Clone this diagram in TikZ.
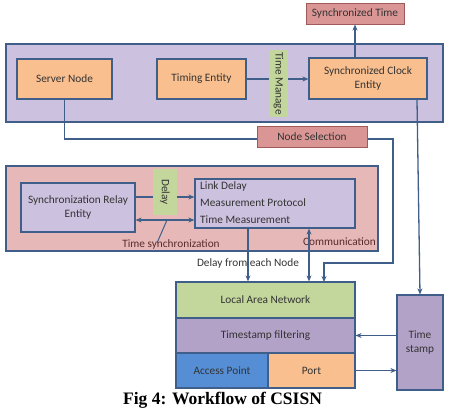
\documentclass[tikz,border=0pt]{standalone}
\usepackage{fontspec}
\setmainfont{Carlito}
\newfontfamily\capfont{Liberation Serif}
\usetikzlibrary{arrows.meta}
\definecolor{lav}{HTML}{CCC1DE}
\definecolor{orng}{HTML}{F9BF8F}
\definecolor{rosy}{HTML}{D99694}
\definecolor{pinkbg}{HTML}{E6B9B8}
\definecolor{grn}{HTML}{C3D69B}
\definecolor{purp}{HTML}{B3A2C7}
\definecolor{blu}{HTML}{558ED5}
\definecolor{edge}{HTML}{3F5F8A}
\definecolor{redge}{HTML}{A05A5A}
\definecolor{txt}{HTML}{333333}
\definecolor{brn}{HTML}{5B2B2B}
\tikzset{
  box/.style={draw=edge, line width=1.2pt, inner sep=0pt, text=txt, font=\fontsize{11.3}{13.5}\selectfont, align=center},
  rbox/.style={draw=redge, line width=1pt, fill=rosy, inner sep=0pt, text=txt, font=\fontsize{11.3}{13.5}\selectfont},
  tag/.style={fill=grn, inner sep=0pt, text=txt, font=\fontsize{11.3}{13.5}\selectfont},
  plain/.style={inner sep=0pt, text=txt, font=\fontsize{11.3}{13.5}\selectfont},
  conn/.style={draw=edge, line width=1.3pt},
  arr/.style={conn, -{Stealth[length=6pt,width=5pt]}},
  darr/.style={conn, {Stealth[length=6pt,width=5pt]}-{Stealth[length=6pt,width=5pt]}}
}
\begin{document}
\begin{tikzpicture}[x=1pt,y=-1pt]
\useasboundingbox (0,0) rectangle (451,410);
% top region
\node[box, fill=lav, minimum width=437pt, minimum height=78pt] (topbg) at (224.5,83) {};
\node[rbox, minimum width=98pt, minimum height=21pt] (synctime) at (355,13.5) {Synchronized Time};
\node[box, fill=orng, minimum width=95pt, minimum height=40pt] (server) at (64.5,79) {Server Node};
\node[box, fill=orng, minimum width=89pt, minimum height=40pt] (timing) at (201.5,79) {Timing Entity};
\node[box, fill=orng, minimum width=118pt, minimum height=41pt] (syncclock) at (368,78.5) {Synchronized Clock\\Entity};
\draw[arr] (timing.east) -- (syncclock.west |- timing.east);
\node[tag, minimum width=19pt, minimum height=67pt] (tmbg) at (278.5,83.5) {};
\node[plain, rotate=-90] (tm) at (278.5,83.5) {Time Manage};
\draw[arr] (synctime.south |- syncclock.north) -- (synctime.south);
% node selection path
\coordinate (c1) at (393,139);
\coordinate (c2) at (324,263);
\draw[arr] (server.south) |- (c1) |- (c2) -- (c2 |- 0,282);
\node[rbox, minimum width=110pt, minimum height=21pt] (nodesel) at (312,136.5) {Node Selection};
% clock to time stamp
\coordinate (c3) at (417,99);
% middle region
\node[box, fill=pinkbg, minimum width=372pt, minimum height=85pt] (midbg) at (192,208.5) {};
\node[box, fill=lav, minimum width=114pt, minimum height=49pt] (relay) at (78,207.5) {Synchronization Relay\\Entity};
\node[box, fill=lav, minimum width=160pt, minimum height=49pt] (link) at (275,203.5) {};
\node[plain, anchor=west] (l1) at (200,186) {Link Delay};
\node[plain, anchor=west] (l2) at (200,203) {Measurement Protocol};
\node[plain, anchor=west] (l3) at (200,220) {Time Measurement};
\coordinate (y197) at (0,197);
\coordinate (y220) at (0,220);
\draw[arr] (relay.east |- y197) -- (link.west |- y197);
\node[tag, minimum width=24pt, minimum height=46pt] (dlbg) at (165,192) {};
\node[plain, rotate=-90] (dl) at (165,192) {Delay};
\draw[darr] (relay.east |- y220) -- (link.west |- y220);
\node[plain, text=brn] (tsync) at (171,244) {Time synchronization};
\coordinate (tsA) at (167,220);
\coordinate (tsB) at (157,243);
\draw[conn, line width=1pt] (tsA) -- (tsB);
\node[plain, text=brn, anchor=east] (comm) at (376,242) {Communication};
% bottom stack
\node[box, fill=grn, minimum width=179pt, minimum height=36pt] (lan) at (265.5,300) {Local Area Network};
\node[box, fill=purp, minimum width=179pt, minimum height=35pt] (filt) at (265.5,335.5) {Timestamp filtering};
\node[box, fill=blu, minimum width=92pt, minimum height=35pt] (ap) at (222,370.5) {Access Point};
\node[box, fill=orng, minimum width=87pt, minimum height=35pt] (port) at (311.5,370.5) {Port};
\node[box, fill=purp, minimum width=46pt, minimum height=95pt] (tstamp) at (420,342.5) {Time\\stamp};
\draw[arr] (syncclock.south -| c3) -- (tstamp.north);
% link to LAN
\coordinate (dx) at (248,0);
\coordinate (cx) at (309,0);
\draw[arr] (link.south -| dx) -- (lan.north -| dx);
\node[plain] (dfen) at (248,263) {Delay from each Node};
\draw[darr] (link.south -| cx) -- (lan.north -| cx);
\draw[arr] (tstamp.west |- filt.east) -- (filt.east);
\draw[arr] (port.east) -- (tstamp.west |- port.east);
% caption
\node[inner sep=0pt, font=\capfont\bfseries\fontsize{17.5}{20}\selectfont, text=black] (cap) at (222.5,400) {Fig 4: Workflow of CSISN};
\end{tikzpicture}
\end{document}
